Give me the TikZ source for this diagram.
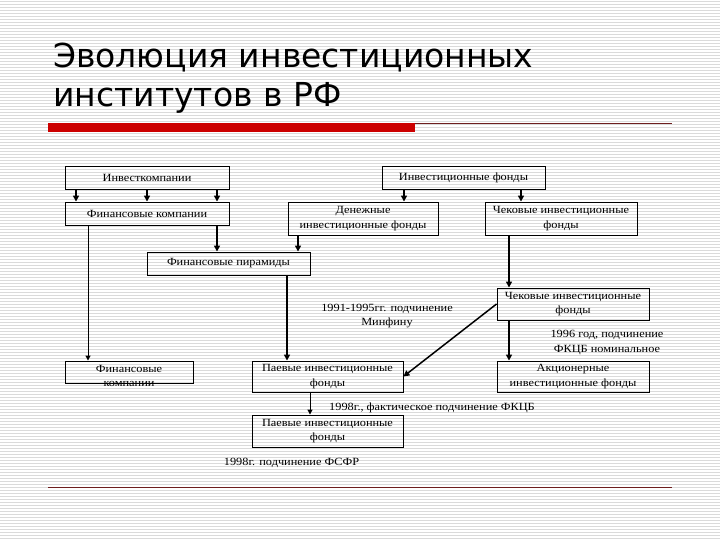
\documentclass[tikz,border=0pt]{standalone}
\usepackage{fontspec}
\setmainfont{Liberation Serif}
\newfontfamily\titlefont{DejaVu Sans}
\newfontfamily\boxfont[FakeStretch=1.12]{Liberation Serif}
\usepackage{tikz}
\usetikzlibrary{arrows.meta,positioning}
\definecolor{slidered}{RGB}{204,0,0}
\definecolor{slidestripe}{RGB}{218,218,218}
\definecolor{ruledark}{RGB}{110,30,30}

\begin{document}
\begin{tikzpicture}[x=1pt, y=-1pt,
    box/.style={
      rectangle, draw=black, line width=0.9pt, inner sep=0pt,
      align=center, font=\boxfont\fontsize{11}{14.5}\selectfont
    },
    note/.style={inner sep=0pt, align=center, font=\boxfont\fontsize{11}{14.5}\selectfont},
    heading/.style={inner sep=0pt, anchor=base west, font=\titlefont\fontsize{33}{39}\selectfont},
    arrow/.style={-{Triangle[width=6pt,length=6pt]}, line width=1.8pt},
    thinarrow/.style={-{Triangle[width=5pt,length=5pt]}, line width=1pt}
  ]
    \useasboundingbox (0,0) rectangle (720,540);
    % striped slide background
    \fill[white] (0,0) rectangle (720,540);
    \foreach \k in {0,...,179}
      \draw[slidestripe, line width=1pt] (0,{\k*3+1.5}) -- (720,{\k*3+1.5});

    % title and rules
    \node[heading] (t1) at (53,68) {Эволюция инвестиционных};
    \node[heading] (t2) at (53,107) {институтов в РФ};
    \fill[slidered] (48,123) rectangle (415,132);
    \draw[ruledark, line width=1pt] (415,124) -- (672,124);
    \draw[ruledark, line width=1pt] (48,487) -- (672,487);

    % boxes
    \node[box, minimum width=164pt, minimum height=23pt] (ik) at (147,177.5) {Инвесткомпании};
    \node[box, minimum width=163pt, minimum height=23pt] (if) at (463.5,177.5) {Инвестиционные фонды};
    \node[box, minimum width=164pt, minimum height=23pt] (fk) at (147,213.5) {Финансовые компании};
    \node[box, minimum width=150pt, minimum height=33pt] (df) at (363,218.5) {Денежные\\инвестиционные фонды};
    \node[box, minimum width=152pt, minimum height=33pt] (cf) at (561,218.5) {Чековые инвестиционные\\фонды};
    \node[box, minimum width=163pt, minimum height=23pt] (fp) at (228.5,263.5) {Финансовые пирамиды};
    \node[box, minimum width=152pt, minimum height=32pt] (cf2) at (573,304) {Чековые инвестиционные\\фонды};
    \node[box, minimum width=152pt, minimum height=31pt] (af) at (573,376.5) {Акционерные\\инвестиционные фонды};
    \node[box, minimum width=128pt, minimum height=22pt] (fk2) at (129,372) {};
    \node[note, below=4.5pt of fk2.north] (fk2txt) {Финансовые\\компании};
    \node[box, minimum width=151pt, minimum height=31pt] (pf) at (327.5,376.5) {Паевые инвестиционные\\фонды};
    \node[box, minimum width=151pt, minimum height=32pt] (pf2) at (327.5,431) {Паевые инвестиционные\\фонды};

    % notes
    \node[note] (n1) at (387,316) {1991-1995гг. подчинение\\Минфину};
    \node[note] (n2) at (607,342.5) {1996 год, подчинение\\ФКЦБ номинальное};
    \node[note] (n3) at (432,408) {1998г., фактическое подчинение ФКЦБ};
    \node[note] (n4) at (291.5,463) {1998г. подчинение ФСФР};

    % connectors
    \foreach \dx in {76,147,217}
      \draw[arrow] (\dx,0 |- ik.south) -- (\dx,0 |- fk.north);
    \draw[arrow] (404,0 |- if.south) -- (404,0 |- df.north);
    \draw[arrow] (521,0 |- if.south) -- (521,0 |- cf.north);
    \draw[arrow] (217,0 |- fk.south) -- (217,0 |- fp.north);
    \draw[arrow] (298,0 |- df.south) -- (298,0 |- fp.north);
    \draw[thinarrow] (88,0 |- fk.south) -- (88,0 |- fk2.north);
    \draw[arrow] (287,0 |- fp.south) -- (287,0 |- pf.north);
    \draw[arrow] (509,0 |- cf.south) -- (509,0 |- cf2.north);
    \draw[arrow] (509,0 |- cf2.south) -- (509,0 |- af.north);
    \draw[arrow, line width=1.5pt] (cf2.west) -- (pf.east);
    \draw[thinarrow] (310,0 |- pf.south) -- (310,0 |- pf2.north);
  \end{tikzpicture}
\end{document}
